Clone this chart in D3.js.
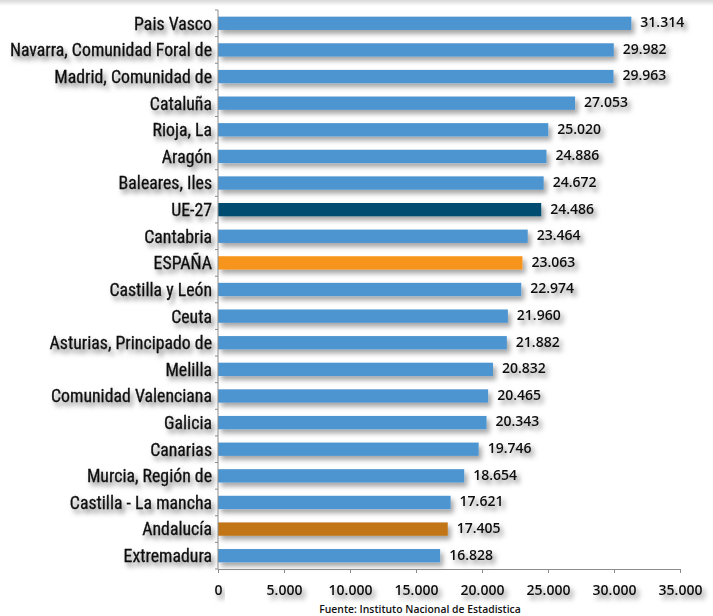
<!DOCTYPE html>
<html>
<head>
<meta charset="utf-8">
<script src="https://cdn.jsdelivr.net/npm/d3@7"></script>
<style>
  body { margin: 0; background: #fff; }
  svg { display: block; }
</style>
</head>
<body>
<svg id="chart" width="713" height="616"></svg>
<script>
// regions, top to bottom
const regions = ["Pais Vasco", "Navarra, Comunidad Foral de", "Madrid, Comunidad de", "Cataluña",
  "Rioja, La", "Aragón", "Baleares, Iles", "UE-27", "Cantabria", "ESPAÑA", "Castilla y León",
  "Ceuta", "Asturias, Principado de", "Melilla", "Comunidad Valenciana", "Galicia", "Canarias",
  "Murcia, Región de", "Castilla - La mancha", "Andalucía", "Extremadura"];
const values = [31314, 29982, 29963, 27053, 25020, 24886, 24672, 24486, 23464, 23063, 22974,
  21960, 21882, 20832, 20465, 20343, 19746, 18654, 17621, 17405, 16828];
const xTicks = [0, 5000, 10000, 15000, 20000, 25000, 30000, 35000];
const highlight = { "UE-27": "#054b70", "ESPAÑA": "#f7941d", "Andalucía": "#c17416" };
const baseColor = "#4e95d0";
const source = "Fuente: Instituto Nacional de Estadistica";

const svg = d3.select("#chart");
const fmt = v => d3.format(",")(v).replace(/,/g, ".");

const x = d3.scaleLinear().domain([0, 35000]).range([218, 680]);
const y = d3.scaleBand().domain(regions).range([10, 569]).paddingInner(0.5).paddingOuter(0.25);

const defs = svg.append("defs");
function shadow(id, op) {
  const f = defs.append("filter").attr("id", id)
      .attr("x", "-10%").attr("y", "-50%").attr("width", "130%").attr("height", "250%");
  f.append("feDropShadow").attr("dx", 3).attr("dy", 4).attr("stdDeviation", 2.5)
      .attr("flood-color", "#000").attr("flood-opacity", op);
}
shadow("shadow", 0.35);
shadow("tshadow", 0.5);

const grad = defs.append("linearGradient").attr("id", "topfade")
    .attr("x1", 0).attr("y1", 0).attr("x2", 0).attr("y2", 1);
grad.append("stop").attr("offset", 0).attr("stop-color", "#d8d8d8");
grad.append("stop").attr("offset", 1).attr("stop-color", "#fff");
svg.append("rect").attr("x", 0).attr("y", 0).attr("width", 713).attr("height", 6).attr("fill", "url(#topfade)");

// bars
svg.append("g").selectAll("rect")
  .data(regions)
  .join("rect")
    .attr("x", x(0))
    .attr("y", d => y(d))
    .attr("width", (d, i) => x(values[i]) - x(0))
    .attr("height", y.bandwidth())
    .attr("fill", d => highlight[d] || baseColor)
    .attr("filter", "url(#shadow)");

// value labels
svg.append("g").selectAll("text")
  .data(regions)
  .join("text")
    .attr("x", (d, i) => x(values[i]) + 9)
    .attr("y", d => y(d) + y.bandwidth() / 2 - 1)
    .attr("dy", "0.35em")
    .attr("font-family", "'Open Sans', sans-serif")
    .attr("font-weight", 600)
    .attr("font-size", 14)
    .attr("fill", "#111")
    .attr("filter", "url(#tshadow)")
    .text((d, i) => fmt(values[i]));

// y axis: line + ticks at band edges
const yAxis = svg.append("g");
yAxis.append("line").attr("x1", x(0)).attr("x2", x(0)).attr("y1", 10).attr("y2", 569)
    .attr("stroke", "#8c8c8c").attr("stroke-width", 1);
yAxis.selectAll(".tk")
  .data(d3.range(regions.length + 1))
  .join("line")
    .attr("x1", x(0) - 3).attr("x2", x(0))
    .attr("y1", i => 10 + i * y.step())
    .attr("y2", i => 10 + i * y.step())
    .attr("stroke", "#8c8c8c");

yAxis.selectAll("text")
  .data(regions)
  .join("text")
    .attr("x", x(0) - 6)
    .attr("y", d => y(d) + y.bandwidth() / 2)
    .attr("dy", "0.36em")
    .attr("text-anchor", "end")
    .attr("font-family", "'Liberation Sans Narrow', 'Roboto Condensed', sans-serif")
    .attr("font-size", 17.8)
    .attr("fill", "#111")
    .attr("stroke", "#111")
    .attr("stroke-width", 0.3)
    .attr("filter", "url(#tshadow)")
    .text(d => d);

// x axis
const xAxis = svg.append("g").attr("transform", "translate(0,569)")
    .call(d3.axisBottom(x).tickValues(xTicks).tickSize(4).tickFormat(fmt));
xAxis.select(".domain").attr("stroke", "#8c8c8c");
xAxis.selectAll(".tick line").attr("stroke", "#8c8c8c");
xAxis.selectAll(".tick text")
    .attr("y", 16)
    .attr("font-family", "'Open Sans', sans-serif")
    .attr("font-weight", 600)
    .attr("font-size", 14)
    .attr("fill", "#111")
    .attr("filter", "url(#tshadow)");

svg.append("text")
    .attr("x", 420).attr("y", 613)
    .attr("text-anchor", "middle")
    .attr("font-family", "'Open Sans', sans-serif")
    .attr("font-weight", 600)
    .attr("font-size", 10.4)
    .attr("fill", "#111")
    .text(source);
</script>
</body>
</html>
